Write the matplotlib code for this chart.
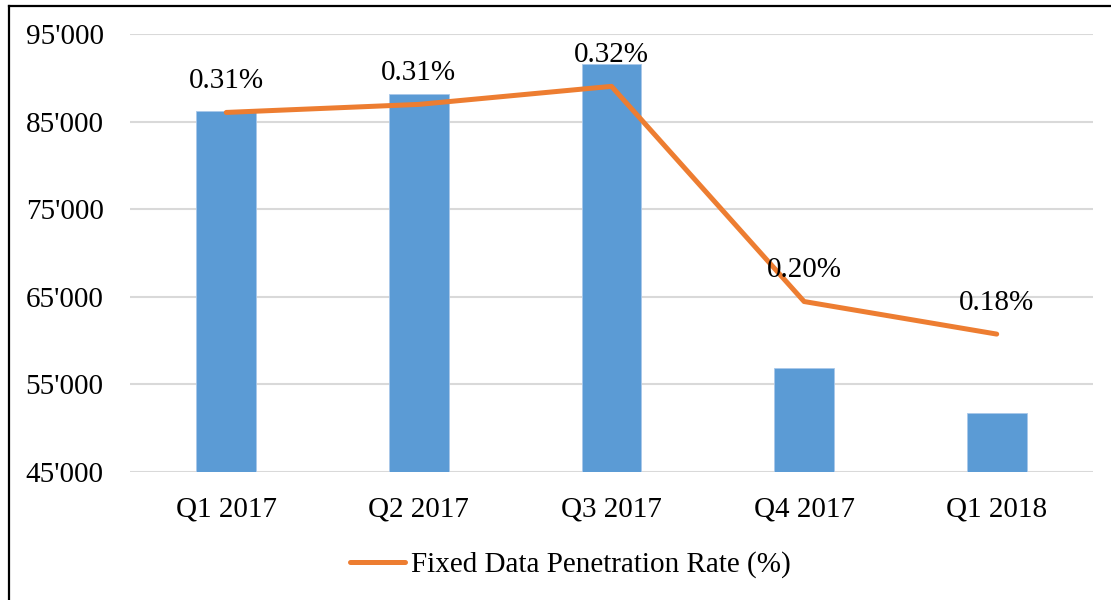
import matplotlib
matplotlib.use("Agg")
import matplotlib.pyplot as plt
from matplotlib.lines import Line2D
from matplotlib.ticker import FuncFormatter

categories = ["Q1 2017", "Q2 2017", "Q3 2017", "Q4 2017", "Q1 2018"]
subscribers = [86180, 88120, 91540, 56800, 51760]
penetration_rate = [0.3052, 0.3098, 0.3201, 0.1972, 0.1786]
line_label = "Fixed Data Penetration Rate (%)"
y_ticks = [45000, 55000, 65000, 75000, 85000, 95000]

plt.rcParams['font.family'] = ['Liberation Serif', 'DejaVu Serif']

W, H = 1111, 600
FS = 21
fig = plt.figure(figsize=(W / 100, H / 100), dpi=100)
ax = fig.add_axes([130 / W, 1 - 471.7 / H, (1093 - 130) / W, (471.7 - 34) / H])

x = list(range(len(categories)))
ax.bar(x, subscribers, width=0.31, color="#5b9bd5", edgecolor="#a9c8ea",
       linewidth=0.6, zorder=2)
ax.set_ylim(45000, 95000)
ax.set_xlim(-0.5, len(categories) - 0.5)
ax.set_yticks(y_ticks)
ax.yaxis.set_major_formatter(FuncFormatter(lambda v, p: f"{int(v)//1000}'{int(v)%1000:03d}"))
ax.set_xticks(x)
ax.set_xticklabels(categories)
ax.tick_params(axis='both', length=0, labelsize=FS, colors="black")
ax.tick_params(axis='y', pad=19)
ax.tick_params(axis='x', pad=18)
ax.grid(axis='y', color="#d9d9d9", linewidth=1.5, zorder=0)
ax.set_axisbelow(True)
for s in ax.spines.values():
    s.set_visible(False)

ax2 = ax.twinx()
ax2.set_ylim(0.10, 0.35)
ax2.plot(x, penetration_rate, color="#ed7d31", linewidth=3.6, zorder=3,
         solid_capstyle='round', solid_joinstyle='round')
for xi, v in zip(x, penetration_rate):
    ax2.annotate(f"{v:.2f}%", (xi, v), xytext=(0, 22.5), textcoords="offset points",
                 ha="center", va="center", fontsize=FS)
ax2.set_yticks([])
for s in ax2.spines.values():
    s.set_visible(False)

handle = Line2D([0], [0], color="#ed7d31", linewidth=3.6, solid_capstyle='round')
fig.legend([handle], [line_label], loc="center", bbox_to_anchor=(570 / W, 1 - 565 / H),
           frameon=False, fontsize=FS, handlelength=1.9, handletextpad=0.2)

# outer frame (top and left edges visible)
fig.add_artist(Line2D([8.5 / W, 1], [1 - 5.5 / H, 1 - 5.5 / H], color="black", linewidth=1.6,
                      transform=fig.transFigure))
fig.add_artist(Line2D([8.5 / W, 8.5 / W], [0, 1 - 5.5 / H], color="black", linewidth=1.6,
                      transform=fig.transFigure))

fig.savefig("out.png", dpi=100, facecolor="white")
